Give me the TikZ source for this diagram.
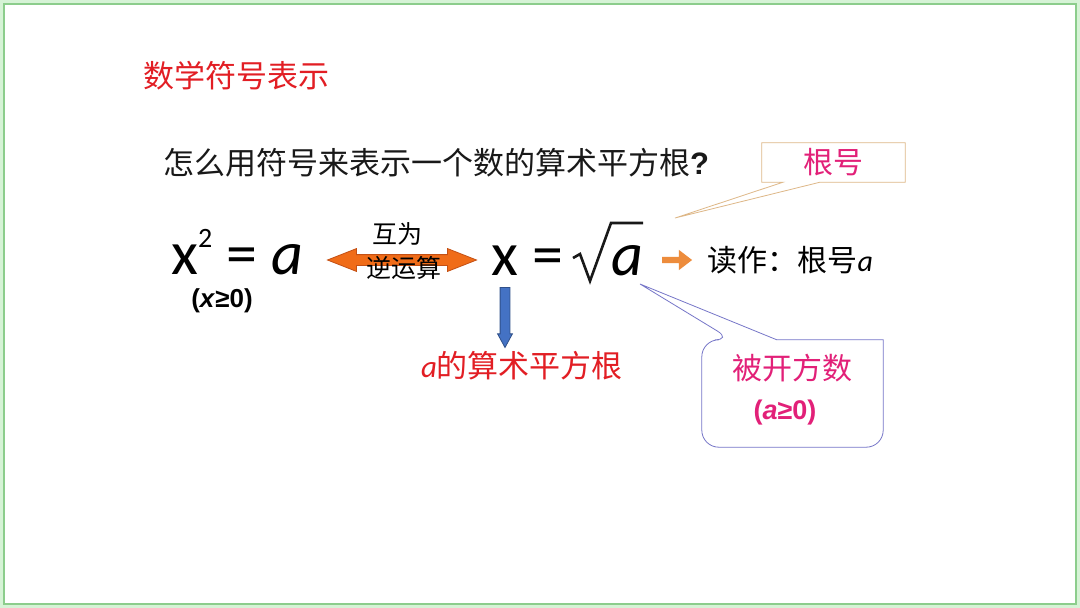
\documentclass[tikz,border=0pt]{standalone}
\usepackage{fontspec}
\setmainfont{Liberation Sans}
\newfontfamily\cjk{Noto Sans CJK SC}
\newfontfamily\formfont{Carlito}
\usetikzlibrary{arrows.meta, positioning, shapes.arrows}
\definecolor{titlered}{RGB}{226, 30, 36}
\definecolor{notepink}{RGB}{226, 32, 120}
\definecolor{arroworange}{RGB}{240, 108, 24}
\definecolor{arrowedge}{RGB}{196, 80, 20}
\definecolor{readorange}{RGB}{237, 140, 60}
\definecolor{arrowblue}{RGB}{68, 114, 196}
\definecolor{calloutsand}{RGB}{222, 184, 136}
\definecolor{calloutblue}{RGB}{118, 118, 200}
\definecolor{framegreen}{RGB}{140, 205, 140}
\definecolor{framelight}{RGB}{214, 243, 214}
\tikzset{
    cjktext/.style={
        inner sep=0pt,
        font=\cjk\fontsize{#1}{#1}\selectfont
    },
    formula/.style={
        inner sep=0pt,
        text depth=0pt,
        font=\formfont\fontsize{62}{62}\selectfont
    },
    cond/.style={
        inner sep=0pt,
        font=\bfseries\fontsize{#1}{#1}\selectfont
    },
    dblarrow/.style={
        double arrow,
        fill=arroworange,
        draw=arrowedge,
        line width=0.8pt,
        inner xsep=0pt,
        inner ysep=5pt,
        minimum height=149pt,
        double arrow head extend=6pt,
        double arrow tip angle=43
    },
    readarrow/.style={
        single arrow,
        fill=readorange,
        inner xsep=0pt,
        inner ysep=3pt,
        minimum height=30pt,
        single arrow head extend=7pt,
        single arrow tip angle=75
    },
    downarrow/.style={
        single arrow,
        rotate=-90,
        fill=arrowblue,
        draw=arrowblue!70!black,
        line width=0.8pt,
        inner xsep=0pt,
        inner ysep=4.5pt,
        minimum height=60pt,
        single arrow head extend=2.5pt,
        single arrow tip angle=57
    },
    radical/.style={
        line width=2.6pt,
        line join=miter,
        black!90
    },
    callout/.style={
        draw=#1,
        fill=white,
        line width=0.8pt
    }
}
\begin{document}
\begin{tikzpicture}[x=1pt, y=-1pt, >=Stealth]
    \fill[framelight] (0,0) rectangle (1080,608);
    \draw[framegreen, line width=1.2pt, fill=white] (4,4) rectangle (1076,604);

    \node[cjktext=31, text=titlered, anchor=west] (title) at (143,76) {数学符号表示};
    \node[cjktext=31, text=black!90, anchor=west] (question) at (163,163) {怎么用符号来表示一个数的算术平方根{\normalfont\bfseries ?}};

    % x^2 = a
    \node[formula, anchor=base west] (square) at (171,274) {x\raisebox{27pt}{\fontsize{28}{28}\selectfont 2} = \textit{a}};
    \node[cond=26, anchor=base] (xcond) at (222,307) {(\textit{x}≥0)};

    % inverse operations
    \node[dblarrow] (inverse) at (402,260) {};
    \node[cjktext=25] (invtop) at (397,234) {互为};
    \node[cjktext=25] (invbot) at (404,268) {逆运算};

    % x = sqrt a
    \node[formula, anchor=base west] (xeq) at (491,275) {x =};
    \node[formula, anchor=base west] (rad) at (611,275) {\textit{a}};
    \draw[radical] (573,258) -- (580,254) -- (590,281) -- (611,223) -- (643,223);

    \node[readarrow] (readarr) at (675,260) {};
    \node[cjktext=30, anchor=west, right=15pt of readarr] (reading) {读作：根号{\formfont\itshape a}};

    \node[downarrow] (down) at (505,313) {};
    \node[cjktext=31, text=titlered] (meaning) at (522,366) {{\formfont\itshape a}的算术平方根};

    % callout: radical sign
    \node[minimum width=143pt, minimum height=39pt, inner sep=0pt] (rootbox) at (833.5,162.5) {};
    \coordinate (roottip) at (675,218);
    \draw[callout=calloutsand] (rootbox.north west) -- (rootbox.north east) -- (rootbox.south east)
        -- ([xshift=-13.5pt]rootbox.south) -- (roottip) -- ([xshift=-50.5pt]rootbox.south)
        -- (rootbox.south west) -- cycle;
    \node[cjktext=30, text=notepink] (rootlabel) at (rootbox.center) {根号};

    % callout: radicand
    \node[minimum width=181pt, minimum height=107pt, inner sep=0pt] (radbox) at (792.5,393.5) {};
    \coordinate (radtip) at (640,284);
    \draw[callout=calloutblue] (radbox.west) [rounded corners=17pt] -- (radbox.north west)
        -- ([xshift=30pt]radbox.north west) [sharp corners] -- (radtip)
        -- ([xshift=75pt]radbox.north west) -- (radbox.north east) [rounded corners=17pt]
        -- (radbox.south east) -- (radbox.south west) -- cycle;
    \node[cjktext=30, text=notepink] (radlabel) at (792,368) {被开方数};
    \node[cond=27, text=notepink] (radcond) at (785,413) {(\textit{a}≥0)};
\end{tikzpicture}
\end{document}
